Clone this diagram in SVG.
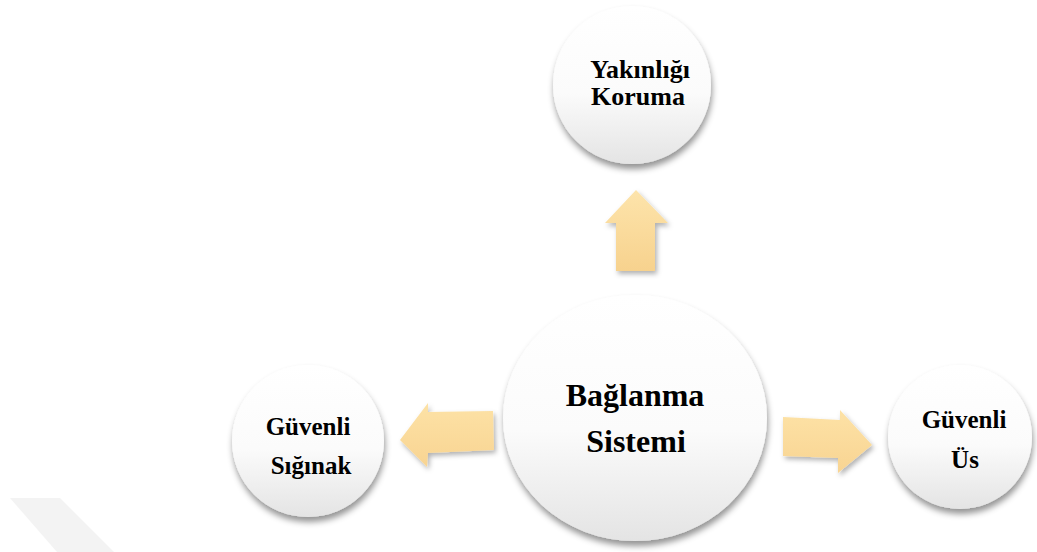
<svg xmlns="http://www.w3.org/2000/svg" width="1037" height="552" viewBox="0 0 1037 552">
  <defs>
    <linearGradient id="gCircle" x1="0" y1="0" x2="0" y2="1">
      <stop offset="0" stop-color="#ffffff"/>
      <stop offset="0.55" stop-color="#fbfbfb"/>
      <stop offset="1" stop-color="#e4e4e4"/>
    </linearGradient>
    <linearGradient id="gArrowV" x1="0" y1="0" x2="0" y2="1">
      <stop offset="0" stop-color="#fde4ab"/>
      <stop offset="1" stop-color="#f7d28e"/>
    </linearGradient>
    <linearGradient id="gArrowH" x1="0" y1="0" x2="0" y2="1">
      <stop offset="0" stop-color="#fde2a6"/>
      <stop offset="1" stop-color="#f8d492"/>
    </linearGradient>
    <filter id="shadow" x="-20%" y="-20%" width="140%" height="145%">
      <feDropShadow dx="1" dy="5" stdDeviation="3" flood-color="#000" flood-opacity="0.42"/>
    </filter>
    <filter id="ashadow" x="-30%" y="-30%" width="160%" height="160%">
      <feDropShadow dx="2" dy="3" stdDeviation="2.5" flood-color="#000" flood-opacity="0.3"/>
    </filter>
  </defs>
  <style>
    .node { fill: url(#gCircle); filter: url(#shadow); }
    .lbl { font-family: "Liberation Serif", "Times New Roman", serif; font-weight: bold; fill: #000; text-anchor: middle; }
    .arrV { fill: url(#gArrowV); filter: url(#ashadow); }
    .arrH { fill: url(#gArrowH); filter: url(#ashadow); }
  </style>
  <rect width="1037" height="552" fill="#ffffff"/>
  <polygon points="10,498 60,498 114,552 57,552" fill="#f3f3f3"/>

  <g id="connectors">
    <polygon class="arrV" points="636,190 668,223 655,223 655,271 616,271 616,223 605,223"/>
    <polygon class="arrH" points="400,440 428,403 428,412 493,411 494,450 428,453 427,467"/>
    <polygon class="arrH" points="872,445 838,473 838,458 783,456 783,417 840,420 840,410"/>
  </g>

  <g id="node-yakinligi">
    <circle class="node" cx="632" cy="85" r="79"/>
    <text class="lbl" font-size="26"><tspan x="640" y="78">Yakınlığı</tspan><tspan x="638" y="105">Koruma</tspan></text>
  </g>

  <g id="node-baglanma">
    <ellipse class="node" cx="635" cy="418" rx="132" ry="123"/>
    <text class="lbl" font-size="32"><tspan x="635" y="406">Bağlanma</tspan><tspan x="636" y="452">Sistemi</tspan></text>
  </g>

  <g id="node-siginak">
    <circle class="node" cx="308" cy="441" r="76"/>
    <text class="lbl" font-size="25"><tspan x="308" y="435">Güvenli</tspan><tspan x="311" y="474">Sığınak</tspan></text>
  </g>

  <g id="node-us">
    <circle class="node" cx="960" cy="437" r="72"/>
    <text class="lbl" font-size="25"><tspan x="964" y="428">Güvenli</tspan><tspan x="965" y="468">Üs</tspan></text>
  </g>
</svg>
